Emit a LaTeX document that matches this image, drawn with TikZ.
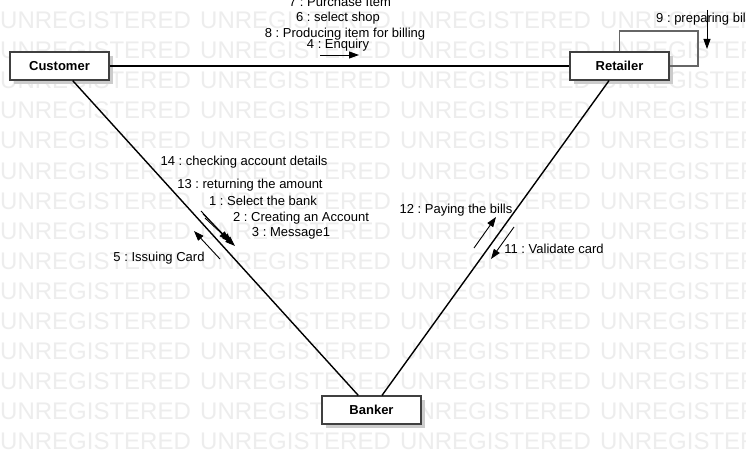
\documentclass[tikz,border=0pt]{standalone}
\usepackage{fontspec}
\setmainfont{Liberation Sans}
\usetikzlibrary{arrows.meta,shadows}
\frenchspacing
\begin{document}
\begin{tikzpicture}[x=1pt,y=-1pt,
  obj/.style={draw=black!75, line width=1.2pt, fill=white, minimum width=99pt, minimum height=28pt, inner sep=0pt,
    font=\fontsize{13}{15}\selectfont\bfseries,
    drop shadow={shadow xshift=4pt, shadow yshift=-4pt, fill=black!20, opacity=1, draw=none}},
  lbl/.style={anchor=base, inner sep=0pt, font=\fontsize{13}{15}\selectfont},
  msg/.style={line width=0.9pt, -{Triangle[length=10pt,width=7pt]}},
  link/.style={line width=1.4pt},
  loopl/.style={draw=black!60, line width=1.2pt},
  wm/.style={anchor=base west, inner sep=0pt, text=black!7, font=\fontsize{24}{24}\selectfont}
]
\useasboundingbox (0,0) rectangle (746,465);
\clip (0,0) rectangle (746,465);
\fill[white] (0,0) rectangle (746,465);
% watermark
\foreach \r in {0,...,14} {
  \foreach \c in {0,1,2,3} {
    \node[wm] (wm-\r-\c) at (\c*200, 29+\r*30) {UNREGISTERED};
  }
}
% objects
\node[obj] (cust) at (59.5,66) {Customer};
\node[obj] (ret) at (619.5,66) {Retailer};
\node[obj] (bank) at (371.5,410) {Banker};
% links
\draw[link] (cust) -- (ret);
\draw[link] (cust) -- (bank);
\draw[link] (ret) -- (bank);
% self loop
\coordinate (loopc) at (698,31);
\draw[loopl] (ret.north) |- (loopc) |- (ret.east);
% Customer -> Retailer messages
\node[lbl] (m7) at (340,7) {7 : Purchase Item};
\node[lbl] (m6) at (338,22) {6 : select shop};
\node[lbl] (m8) at (345,38) {8 : Producing item for billing};
\node[lbl] (m4) at (338,49) {4 : Enquiry};
\coordinate (a4s) at (320,55);
\coordinate (a4e) at (359,55);
\draw[msg] (a4s) -- (a4e);
% self message
\node[lbl, anchor=base west] (m9) at (656,23) {9 : preparing bills};
\coordinate (a9s) at (707,10);
\coordinate (a9e) at (707,49);
\draw[msg] (a9s) -- (a9e);
% Customer -> Banker messages
\node[lbl] (m14) at (244,165) {14 : checking account details};
\node[lbl] (m13) at (250,189) {13 : returning the amount};
\node[lbl] (m1) at (263,205) {1 : Select the bank};
\node[lbl] (m2) at (301,221) {2 : Creating an Account};
\node[lbl] (m3) at (291,236) {3 : Message1};
\coordinate (b1s) at (201,211);
\coordinate (b1e) at (229,241);
\coordinate (b2s) at (203,214);
\coordinate (b2e) at (232,243);
\coordinate (b3s) at (205,218);
\coordinate (b3e) at (235,246);
\draw[msg] (b1s) -- (b1e);
\draw[msg] (b2s) -- (b2e);
\draw[msg] (b3s) -- (b3e);
\node[lbl] (m5) at (159,261) {5 : Issuing Card};
\coordinate (b5s) at (220,259);
\coordinate (b5e) at (194,231);
\draw[msg] (b5s) -- (b5e);
% Retailer <-> Banker messages
\node[lbl] (m12) at (456,213) {12 : Paying the bills};
\coordinate (c12s) at (474,248);
\coordinate (c12e) at (496,217);
\draw[msg] (c12s) -- (c12e);
\node[lbl] (m11) at (554,253) {11 : Validate card};
\coordinate (c11s) at (514,227);
\coordinate (c11e) at (491,259);
\draw[msg] (c11s) -- (c11e);
\end{tikzpicture}
\end{document}
